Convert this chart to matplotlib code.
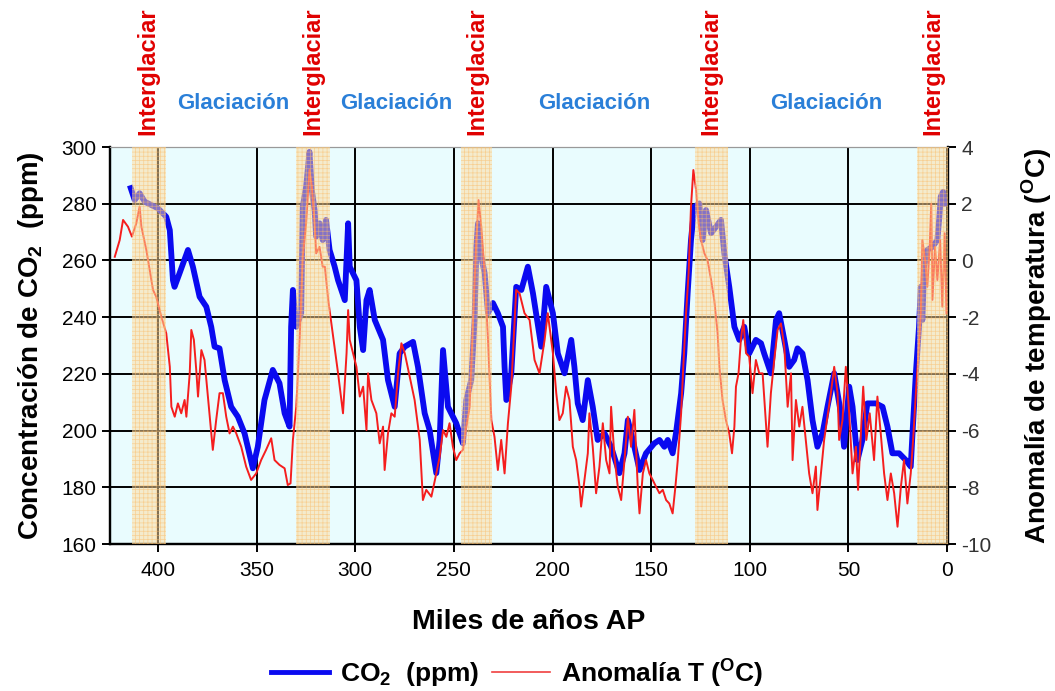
import matplotlib
matplotlib.use("Agg")
import matplotlib.pyplot as plt
from matplotlib.lines import Line2D

plt.rcParams['font.family'] = ['Liberation Sans', 'DejaVu Sans']
plt.rcParams['mathtext.fontset'] = 'custom'
plt.rcParams['mathtext.rm'] = 'Liberation Sans'
plt.rcParams['mathtext.bf'] = 'Liberation Sans:bold'
plt.rcParams['hatch.linewidth'] = 0.5
plt.rcParams['axes.unicode_minus'] = False

# CO2 record (thousand years BP, ppm)
co2_age = [413.8, 411.8, 409.3, 406.7, 400, 395.8, 394, 392.4, 391.6, 389, 384.8, 382.3,
           378.9, 375.5, 373, 371.3, 368.8, 366.2, 362.9, 359.5, 356.1, 351.9, 349.4, 346,
           341.8, 338.4, 335.8, 333.3, 332.5, 331.6, 329.9, 327.4, 326.6, 324.9, 323.2, 322,
           320.6, 319.8, 318.1, 316.5, 314.8, 313, 310.5, 308.7, 305.3, 303.6, 302.8, 299.4,
           297.7, 296, 294.3, 292.7, 290.1, 285.9, 283.4, 280, 277.5, 274.9, 270.7, 268.2,
           264.8, 262.3, 258.9, 257.2, 255.5, 253, 248.8, 245.4, 243.7, 241.2, 239.5, 238.6,
           237.8, 236.1, 234.4, 232.7, 230.2, 227.7, 225.1, 224.3, 223.4, 220.9, 218.4, 215.8,
           212.5, 209.9, 205.7, 203.2, 199.8, 197.3, 193.9, 190.5, 188.9, 187.2, 184.7, 182.1,
           179.6, 177.1, 173.7, 170.3, 166.1, 163.5, 161.8, 159.3, 155.9, 152.6, 148.4, 145.8,
           143.3, 141.6, 139.1, 137.4, 134.8, 133.2, 131.5, 129.8, 128.1, 125.6, 123.9, 122.2,
           119.6, 117.1, 114.6, 112.9, 110.4, 107.8, 105.3, 102.8, 100.3, 96.9, 94.3, 92.7,
           89.3, 86.7, 85.1, 82.5, 80, 77.5, 75.8, 73.3, 70.7, 68.2, 65.7, 63.1, 60.6, 57.2,
           53.8, 52.2, 49.6, 47.9, 45.4, 42.9, 40.4, 36.1, 32.7, 30.2, 27.7, 24.3, 20.9, 18.4,
           17.5, 15.8, 14.2, 13.3, 12.5, 11.6, 10, 7.4, 4.9, 4, 3.2, 2, 1.2]
co2_ppm = [285.5, 281.3, 283.7, 280.7, 278.4, 275.4, 270.7, 253, 250.7, 255.6, 263.7, 257.8,
           247.2, 243.7, 236.6, 229.6, 229, 217.8, 208.4, 204.9, 199, 186.7, 194.3, 210.8,
           221.4, 216.7, 206.1, 201.4, 236.6, 249.6, 236.6, 241.4, 279, 286, 298.3, 284.8,
           277.8, 268.4, 273.1, 267.2, 274.3, 263.7, 258, 253, 246, 273.1, 257.8, 253,
           236.6, 228.4, 246, 249.6, 239, 232, 217.8, 208.4, 227.2, 229.6, 231.3, 222.5,
           206.1, 200.2, 185, 196.7, 228.4, 208.4, 202.6, 195.5, 210.8, 217.8, 239, 264.8,
           273.1, 261.3, 255.5, 241.4, 245, 241.4, 236.6, 222.5, 210.8, 220.2, 250.7, 249.6,
           257.8, 248.4, 229.6, 250.7, 241.4, 227.2, 220.2, 232, 222.5, 209.6, 203.7, 217.8,
           208.4, 196.7, 199.1, 194.3, 185, 192, 203.7, 196.7, 186.1, 192, 195.5, 196.7,
           194.3, 196.7, 192, 199.1, 213.1, 227.2, 248.4, 267.2, 279, 280.1, 267.2, 277.8,
           269.6, 271.9, 274.3, 262.5, 250.7, 236.6, 232, 236.6, 227.2, 232, 230.8, 227.2,
           220.2, 239, 241.4, 232, 222.5, 224.9, 229, 227.2, 217.8, 203.7, 194.3, 199.1, 208.4, 220.2,
           206.1, 194.3, 215.5, 208.4, 189.6, 196.7, 209.6, 209.6, 208.4, 201.4, 192, 192, 189.6, 187.3,
           199.1, 220.2, 236.6, 250.7, 239, 257.8, 263.7, 264.8, 267.2, 274.3, 282.5, 284.2, 280]

# temperature anomaly (thousand years BP, degC)
temp_age = [421.9, 419.4, 417.7, 415.2, 413.2, 411, 409.3, 408.4, 405.9, 404.2, 402.5, 400.9,
            398.3, 395.8, 394, 393.2, 391.5, 389.9, 388.2, 386.5, 385.6, 383.9, 383.1, 381.8,
            380.6, 379.7, 378, 376.4, 374.7, 372.2, 370.5, 368.8, 367.1, 365.4, 363.7, 362,
            360.3, 357.8, 355.3, 352.8, 350.2, 347.7, 345.2, 342.6, 340.9, 338.4, 335.8, 334.2,
            332.8, 331.6, 329.9, 328.2, 326.6, 324.9, 323.2, 322, 320.6, 319.8, 318.1, 316.5,
            315.4, 313.7, 311.2, 308.7, 307, 306.2, 304.4, 303.6, 302.8, 301.1, 299.4, 297.7,
            296, 294.3, 293.5, 291.8, 289.3, 287.6, 285.9, 285.1, 283.4, 281.7, 280, 278.3,
            276.6, 274.9, 272.4, 269.9, 267.3, 265.7, 264, 261.4, 258.9, 257.2, 255.5, 253.8,
            252.2, 250.5, 248.8, 247.1, 245.4, 243.7, 242, 240.4, 238.6, 237.5, 236.1, 234.4,
            232.7, 231, 229.4, 227.7, 226, 224.3, 222.6, 220.9, 218.4, 216.7, 214.2, 211.6,
            209.1, 206.6, 204, 202.4, 199.8, 198.1, 196.5, 194.8, 193.1, 191.4, 189.7, 188,
            186.3, 185.5, 183.8, 182.1, 181.3, 179.6, 177.9, 176.2, 174.5, 172.8, 171.1, 170.3,
            168.6, 166.9, 165.2, 163.5, 161.8, 160.2, 158.5, 156.8, 155.9, 154.2, 152.6, 150.9,
            149.2, 147.5, 145.8, 144.1, 142.4, 140.8, 139.1, 137.7, 136.5, 134.8, 133.7, 132.3,
            131, 129.8, 128.6, 127.2, 125.9, 124.7, 123, 121.4, 119.6, 118, 116.3, 115.4,
            113.8, 112.1, 110.4, 109, 107.8, 107, 105.7, 104.5, 103.3, 101.9, 100.3, 98.6,
            96.9, 95.2, 93.5, 91, 89.3, 87.6, 85.9, 84.2, 82.5, 80.8, 79.1, 78.3,
            76.6, 74.9, 73.3, 71.6, 69.9, 68.2, 66.5, 65.7, 63.9, 62.3, 60.6, 58.9,
            57.2, 55.5, 54.7, 53, 51.3, 49.6, 47.9, 46.2, 45.1, 43.7, 42.5, 40.9,
            39.2, 37, 35.3, 33.6, 31.9, 30.2, 28.5, 26.8, 25.1, 23.4, 21.8, 20.1,
            18.4, 17.2, 15.8, 14.5, 13.3, 12.5, 11.1, 10, 8.8, 8.0, 7.4, 6.1, 4.9,
            3.5, 2.4, 1.2, 0.3]
temp_anom = [0.13, 0.72, 1.43, 1.19, 0.84, 1.31, 1.9, 1.19, 0.37, -0.34, -1.04, -1.28,
             -1.98, -2.57, -3.75, -5.16, -5.51, -5.04, -5.39, -4.92, -5.51, -3.98, -2.45, -2.8,
             -3.86, -4.8, -3.16, -3.51, -4.8, -6.68, -5.63, -4.68, -4.68, -5.51, -6.1, -5.86,
             -6.1, -6.57, -7.27, -7.74, -7.51, -7.04, -6.68, -6.27, -7.04, -7.21, -7.33, -7.92,
             -7.86, -6.33, -5.16, -2.8, 0.13, 1.31, 3.19, 2.6, 1.31, 0.25, 0.48, -0.22,
             -0.22, -1.39, -2.69, -3.98, -4.92, -5.39, -3.27, -1.75, -2.8, -3.27, -3.75, -4.8,
             -4.45, -5.98, -3.98, -4.92, -5.39, -6.45, -5.86, -7.39, -6.1, -5.39, -5.51, -3.98,
             -2.92, -3.27, -4.1, -4.92, -6.33, -8.45, -8.09, -8.33, -7.51, -6.92, -5.98, -6.22,
             -5.74, -6.57, -7.04, -6.8, -6.68, -5.86, -5.16, -2.34, 0.72, 2.13, 1.19, -0.45,
             -2.8, -5.63, -6.22, -7.39, -6.33, -7.51, -5.74, -4.45, -1.04, -1.16, -1.86, -2.1,
             -3.51, -3.98, -2.8, -1.86, -3.27, -4.68, -5.63, -5.39, -4.45, -4.92, -6.57, -7.04,
             -7.98, -8.68, -7.74, -6.8, -5.39, -6.57, -8.21, -7.27, -5.74, -7.04, -7.51, -5.16,
             -6.92, -7.98, -8.45, -7.04, -5.51, -6.57, -5.27, -7.98, -8.92, -7.51, -7.04, -7.51,
             -7.74, -7.98, -8.21, -8.09, -8.45, -8.57, -8.92, -7.98, -7.04, -5.39, -3.75, -1.86,
             -0.45, 1.9, 3.19, 2.48, 1.31, 0.72, 0.25, 0.01, -0.69, -1.39, -2.57, -3.75,
             -4.92, -5.63, -6.1, -6.8, -5.86, -4.45, -3.98, -2.8, -2.1, -3.27, -3.39, -4.68,
             -3.51, -3.98, -3.98, -6.57, -4.68, -3.51, -2.45, -2.22, -3.04, -5.16, -3.98, -7.04,
             -4.92, -5.86, -5.16, -6.33, -7.51, -8.21, -7.27, -8.8, -7.51, -6.33, -5.51, -4.68,
             -3.75, -4.68, -6.33, -5.63, -3.75, -5.39, -7.51, -6.57, -8.09, -6.1, -4.45, -6.33,
             -5.39, -7.04, -4.8, -6.1, -7.51, -8.45, -7.51, -8.21, -9.39, -7.98, -7.04, -8.57,
             -7.51, -6.33, -4.68, -3.27, -1.86, 0.72, 0.01, -0.93, 0.48, 2.0, -1.39, 0.48, -0.69,
             0.72, -1.63, 0.96, -1.86]

# interglacial periods (kyr BP)
interglacial_start = [413, 330, 246.5, 128, 15]
interglacial_end = [396, 313, 230.5, 111, -1]
interglacial_label_x = [405, 321.5, 238.5, 119.5, 7]
glaciation_label_x = [362, 279, 179, 61]

fig = plt.figure(figsize=(10.55, 6.91), dpi=100)
ax = fig.add_axes([0.1043, 0.2127, 0.7943, 0.5745])
ax2 = ax.twinx()

ax.set_facecolor('#e9fcfe')
ax.set_xlim(424.3, -0.5)
ax.set_ylim(160, 300)
ax2.set_ylim(-10, 4)

ax.set_xticks([400, 350, 300, 250, 200, 150, 100, 50, 0])
ax.set_yticks(range(160, 301, 20))
ax2.set_yticks(range(-10, 5, 2))
ax.grid(True, color='black', linewidth=1.4, zorder=1)
ax.set_axisbelow(True)

ax.plot(co2_age, co2_ppm, color='#0a0af0', linewidth=4.2, solid_joinstyle='round', zorder=3)
ax2.plot(temp_age, temp_anom, color='#f51e1e', linewidth=1.4, zorder=4)

for s, e in zip(interglacial_start, interglacial_end):
    ax2.axvspan(s, e, facecolor=(1.0, 0.86, 0.62, 0.5), edgecolor=(0.98, 0.74, 0.42, 0.6),
                hatch='++++', linewidth=0, zorder=5)

ax.spines['top'].set_color('#999999')
ax2.spines['top'].set_color('#999999')
for a in (ax, ax2):
    a.spines['left'].set_linewidth(1.6)
    a.spines['bottom'].set_linewidth(1.6)
    a.spines['right'].set_linewidth(1.6)

ax.tick_params(axis='both', labelsize=15, length=6, width=1.4, colors='black')
ax.tick_params(axis='x', pad=6)
ax2.tick_params(axis='y', labelsize=15, length=6, width=1.4, labelcolor='#333333')

ax.set_xlabel('Miles de años AP', fontsize=20.5, fontweight='bold', labelpad=21)
ax.set_ylabel(r'Concentración de CO$_\mathbf{2}$  (ppm)', fontsize=20, fontweight='bold', labelpad=11)
ax2.set_ylabel(r'Anomalía de temperatura ($^\mathbf{O}$C)', fontsize=20, fontweight='bold', labelpad=20)

trans = ax.get_xaxis_transform()
for x in interglacial_label_x:
    ax.text(x, 1.03, 'Interglaciar', rotation=90, color='#e00000', fontsize=17, fontweight='bold',
            ha='center', va='bottom', transform=trans, clip_on=False)
for x in glaciation_label_x:
    ax.text(x, 1.11, 'Glaciación', color='#2a7fd8', fontsize=16, fontweight='bold',
            ha='center', va='center', transform=trans, clip_on=False)

handles = [Line2D([], [], color='#0a0af0', linewidth=3.5),
           Line2D([], [], color='#f04040', linewidth=1.2)]
fig.legend(handles, [r'CO$_\mathbf{2}$  (ppm)', r'Anomalía T ($^\mathbf{O}$C)'],
           loc='center', bbox_to_anchor=(0.49, 0.027), ncol=2, frameon=False,
           prop={'weight': 'bold', 'size': 19}, handlelength=2.2, columnspacing=0.5,
           handletextpad=0.4)

fig.savefig('out.png', dpi=100)
